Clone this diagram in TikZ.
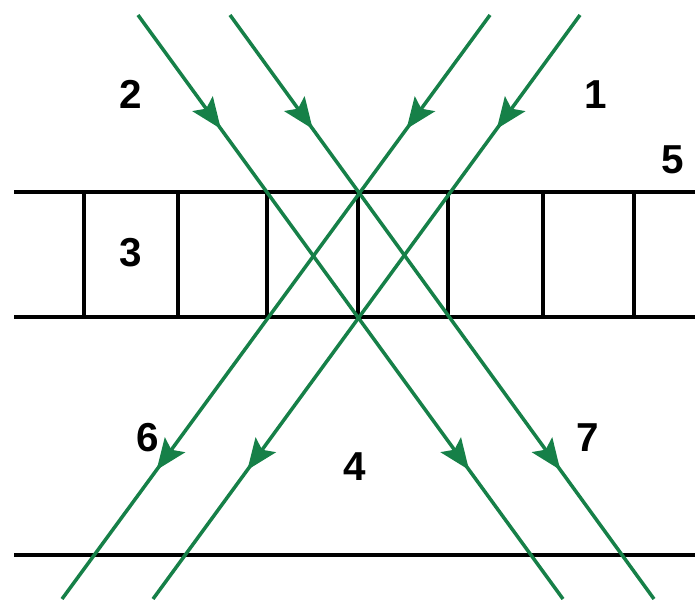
\documentclass[tikz,border=0pt]{standalone}
\usepackage{fontspec}
\setmainfont{Liberation Sans}
\usetikzlibrary{arrows.meta,decorations.markings}
\definecolor{raygreen}{RGB}{22,128,72}
\tikzset{
  wall/.style={draw=black, line width=2pt},
  ray/.style={draw=raygreen, line width=2pt, postaction={decorate},
    decoration={markings,
      mark=at position 0.195 with {\arrow{Stealth[length=0.62cm,width=0.5cm,inset=0.12cm]}},
      mark=at position 0.779 with {\arrow{Stealth[length=0.62cm,width=0.5cm,inset=0.12cm]}}}},
  num/.style={font=\fontsize{23}{23}\selectfont\bfseries, inner sep=0pt}
}
\begin{document}
\begin{tikzpicture}[x=0.02cm, y=-0.02cm]
    \useasboundingbox (0,0) rectangle (695,599);
    % strip with cells
    \draw[wall] (14,192) -- (695,192);
    \draw[wall] (14,317) -- (695,317);
    \draw[wall] (84,192) -- (84,317) (178,192) -- (178,317) (267,192) -- (267,317)
        (358,192) -- (358,317) (448,192) -- (448,317) (543,192) -- (543,317)
        (634,192) -- (634,317);
    \draw[wall] (14,555) -- (695,555);
    % ray ends
    \coordinate (a0) at (138,15);  \coordinate (a1) at (563,599);
    \coordinate (b0) at (230,15);  \coordinate (b1) at (654,599);
    \coordinate (c0) at (490,15);  \coordinate (c1) at (62,599);
    \coordinate (d0) at (580,15);  \coordinate (d1) at (153,599);
    \draw[ray] (a0) -- (a1);
    \draw[ray] (b0) -- (b1);
    \draw[ray] (c0) -- (c1);
    \draw[ray] (d0) -- (d1);
    % labels
    \node[num] (n1) at (596,95) {1};
    \node[num] (n2) at (131,94) {2};
    \node[num] (n3) at (131,253) {3};
    \node[num] (n4) at (355,467) {4};
    \node[num] (n5) at (673,160) {5};
    \node[num] (n6) at (148,438) {6};
    \node[num] (n7) at (588,438) {7};
\end{tikzpicture}
\end{document}
